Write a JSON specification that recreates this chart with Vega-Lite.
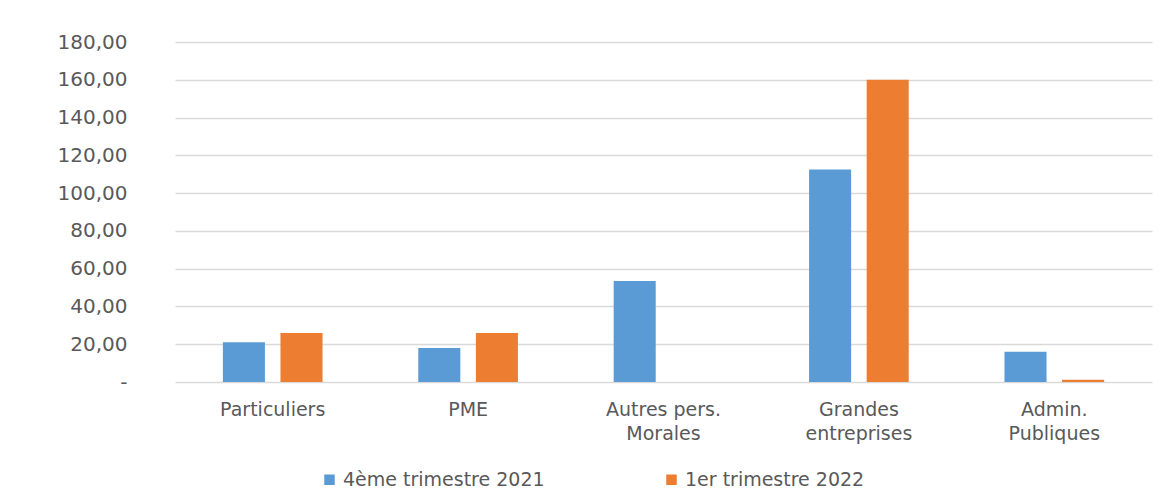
{
  "$schema": "https://vega.github.io/schema/vega-lite/v6.json",
  "autosize": {"type": "none"},
  "width": 977,
  "height": 340,
  "padding": {"left": 175, "top": 42, "right": 22, "bottom": 122},
  "background": "white",
  "config": {
    "view": {"stroke": null},
    "font": "DejaVu Sans",
    "axis": {"labelColor": "#595959", "labelFont": "DejaVu Sans"},
    "legend": {"labelColor": "#595959", "labelFont": "DejaVu Sans"}
  },
  "data": {
    "values": [
      {"categorie": "Particuliers", "periode": "4ème trimestre 2021", "valeur": 21.0},
      {"categorie": "Particuliers", "periode": "1er trimestre 2022", "valeur": 26.0},
      {"categorie": "PME", "periode": "4ème trimestre 2021", "valeur": 18.0},
      {"categorie": "PME", "periode": "1er trimestre 2022", "valeur": 26.0},
      {"categorie": "Autres pers. Morales", "periode": "4ème trimestre 2021", "valeur": 53.5},
      {"categorie": "Autres pers. Morales", "periode": "1er trimestre 2022", "valeur": 0.0},
      {"categorie": "Grandes entreprises", "periode": "4ème trimestre 2021", "valeur": 112.5},
      {"categorie": "Grandes entreprises", "periode": "1er trimestre 2022", "valeur": 160.0},
      {"categorie": "Admin. Publiques", "periode": "4ème trimestre 2021", "valeur": 16.0},
      {"categorie": "Admin. Publiques", "periode": "1er trimestre 2022", "valeur": 1.2}
    ]
  },
  "mark": {"type": "bar"},
  "encoding": {
    "x": {
      "field": "categorie",
      "type": "nominal",
      "sort": ["Particuliers", "PME", "Autres pers. Morales", "Grandes entreprises", "Admin. Publiques"],
      "scale": {"paddingInner": 0.49, "paddingOuter": 0.245},
      "axis": {
        "title": null,
        "labelAngle": 0,
        "domain": false,
        "ticks": false,
        "labelFontSize": 19,
        "labelPadding": 18,
        "labelLineHeight": 24,
        "labelBaseline": "top",
        "labelExpr": "datum.value == 'Autres pers. Morales' ? ['Autres pers.', 'Morales'] : datum.value == 'Grandes entreprises' ? ['Grandes', 'entreprises'] : datum.value == 'Admin. Publiques' ? ['Admin.', 'Publiques'] : datum.value"
      }
    },
    "xOffset": {
      "field": "periode",
      "type": "nominal",
      "sort": ["4ème trimestre 2021", "1er trimestre 2022"],
      "scale": {"paddingInner": 0.27, "paddingOuter": 0}
    },
    "y": {
      "field": "valeur",
      "type": "quantitative",
      "scale": {"domain": [0, 180], "nice": false},
      "axis": {
        "title": null,
        "values": [0, 20, 40, 60, 80, 100, 120, 140, 160, 180],
        "domain": false,
        "ticks": false,
        "labelFontSize": 20,
        "labelPadding": 48,
        "gridColor": "#d9d9d9",
        "gridWidth": 1.5,
        "labelExpr": "datum.value == 0 ? '-' : replace(format(datum.value, '.2f'), '.', ',')"
      }
    },
    "color": {
      "field": "periode",
      "type": "nominal",
      "sort": ["4ème trimestre 2021", "1er trimestre 2022"],
      "scale": {"range": ["#5b9bd5", "#ed7d31"]},
      "legend": {
        "title": null,
        "orient": "none",
        "direction": "horizontal",
        "legendX": 145,
        "legendY": 428,
        "symbolType": "square",
        "symbolSize": 110,
        "symbolStrokeWidth": 0,
        "labelFontSize": 19,
        "labelOffset": 4,
        "labelLimit": 500,
        "columnPadding": 117
      }
    }
  }
}
